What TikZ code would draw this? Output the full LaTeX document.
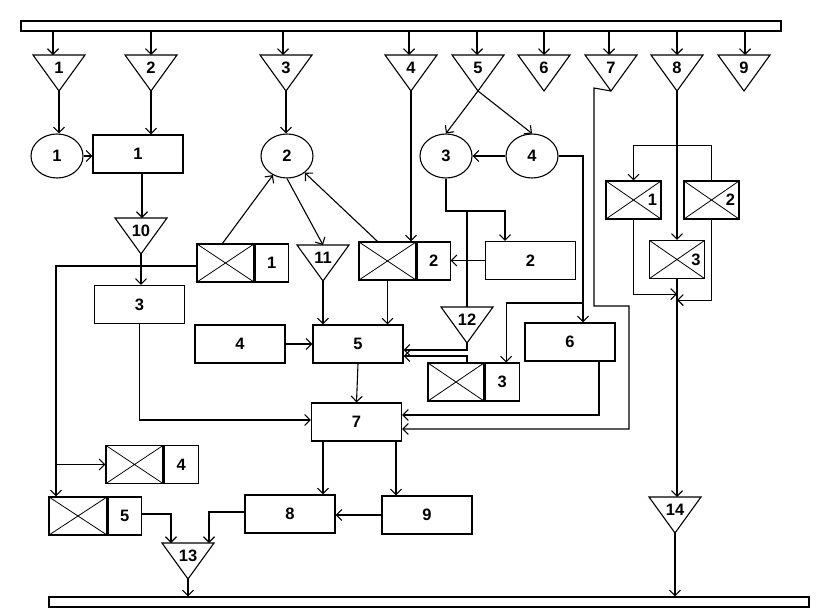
\documentclass[tikz,border=0pt]{standalone}
\usepackage{fontspec}
\setmainfont{Liberation Sans}
\usetikzlibrary{shapes.geometric,arrows.meta,calc}
\tikzset{
  every node/.style={font=\fontsize{16.5}{16.5}\selectfont\bfseries},
  box/.style={draw, minimum width=90pt, minimum height=38pt, inner sep=0pt},
  circ/.style={draw, ellipse, minimum width=52pt, minimum height=44pt, inner sep=0pt},
  xbox/.style={draw, minimum width=57pt, minimum height=38pt, inner sep=0pt,
    path picture={\draw[line width=0.8pt] (path picture bounding box.north west)--(path picture bounding box.south east)
      (path picture bounding box.south west)--(path picture bounding box.north east);}},
  lcell/.style={draw, minimum width=33pt, minimum height=38pt, inner sep=0pt, anchor=west},
  bar/.style={draw, inner sep=0pt, minimum height=10pt},
  arr/.style={-{Straight Barb[length=5.5pt,width=11pt]}},
}
\newcommand\Tri[4]{%
  \draw (#2-26,#3) -- (#2+26,#3) -- (#2,#3+36) -- cycle;
  \coordinate (#1t) at (#2,#3);
  \coordinate (#1b) at (#2,#3+36);
  \node (#1l) at (#2,#3+12.5) {#4};
}
\begin{document}
\begin{tikzpicture}[x=1pt,y=-1pt,line width=1.1pt]
\useasboundingbox (0,0) rectangle (816,613);
% bars
\node[bar, minimum width=760pt] (top) at (401,26) {};
\node[bar, minimum width=760pt] (bot) at (429,602) {};
% top triangles
\Tri{t1}{59}{55}{1}
\Tri{t2}{151}{55}{2}
\Tri{t3}{286}{55}{3}
\Tri{t4}{411}{55}{4}
\Tri{t5}{478}{55}{5}
\Tri{t6}{544}{55}{6}
\Tri{t7}{611}{55}{7}
\Tri{t8}{677}{55}{8}
\Tri{t9}{744}{55}{9}
\foreach \n/\x in {1/53,2/151,3/283,4/409,5/477,6/544,7/609,8/677,9/745}{
  \coordinate (a\n) at (\x,55);
  \draw[arr] (top.south -| a\n) -- (a\n);
}
% other triangles
\Tri{t10}{141}{218}{10}
\Tri{t11}{323}{245}{11}
\Tri{t12}{467}{307}{12}
\Tri{t13}{188}{543}{13}
\Tri{t14}{675}{497}{14}
% circles
\node[circ] (c1) at (57,156) {1};
\node[circ] (c2) at (287,156) {2};
\node[circ] (c3) at (446,156) {3};
\node[circ] (c4) at (532,156) {4};
% boxes
\node[box] (b1) at (138,154) {1};
\node[box] (b2) at (530.5,260.5) {2};
\node[box] (b3) at (139.5,304.5) {3};
\node[box] (b4) at (240,344) {4};
\node[box] (b5) at (358,344) {5};
\node[box] (b6) at (570,342) {6};
\node[box] (b7) at (356.5,422) {7};
\node[box] (b8) at (290,514) {8};
\node[box] (b9) at (427,515) {9};
% crossed boxes with label cells
\node[xbox] (x1) at (225.5,263) {};
\node[lcell] (x1c) at (x1.east) {1};
\node[xbox] (x2) at (387.5,261) {};
\node[lcell] (x2c) at (x2.east) {2};
\node[xbox, minimum width=56pt] (x3) at (456,382) {};
\node[lcell, minimum width=34pt] (x3c) at (x3.east) {3};
\node[xbox] (x4) at (134.5,464.5) {};
\node[lcell, minimum width=34pt] (x4c) at (x4.east) {4};
\node[xbox, minimum width=58pt] (x5) at (78,516) {};
\node[lcell] (x5c) at (x5.east) {5};
% right crossed boxes
\node[xbox, minimum width=55pt] (r1) at (633.5,200) {};
\node (r1l) at ($(r1.center)+(19,0)$) {1};
\node[xbox, minimum width=55pt] (r2) at (711.5,200) {};
\node (r2l) at ($(r2.center)+(19,0)$) {2};
\node[xbox, minimum width=55pt] (r3) at (677,259.5) {};
\node (r3l) at ($(r3.center)+(19,0)$) {3};
% connectors, left part
\draw[arr] (t1b) -- (t1b |- c1.north);
\draw[arr] (c1.east) -- (c1.east -| b1.west);
\draw[arr] (t2b) -- (t2b |- b1.north);
\draw[arr] (t3b) -- (t3b |- c2.north);
\coordinate (p10) at ($(b1.south)+(4,0)$);
\draw[arr] (p10) -- (p10 |- t10t);
\draw[arr] (t10b) -- (t10b |- b3.north);
\coordinate (jl) at (56,266);
\draw[arr] (x1.west |- jl) -- (jl) -- (jl |- x5.north);
\draw[arr] (jl |- x4.west) -- (x4.west);
\draw[arr] ($(x1.north west)+(26,0)$) -- (c2);
\draw[arr] (c2.south) -- (t11t);
\draw[arr] ($(x2.north)+(-10,0)$) -- (c2);
\draw[arr] (t4b) -- (t4b |- x2.north);
\draw[arr] (t11b) -- (t11b |- b5.north);
\draw[arr] (x2.south) -- (x2.south |- b5.north);
\draw[arr] (b4.east) -- (b5.west);
% middle part
\draw[arr] (t5b) -- (c3.north);
\draw[arr] (t5b) -- (c4.north);
\draw[arr] (c4.west) -- (c3.east);
\coordinate (p6) at ($(b6.north)+(13,0)$);
\draw[arr] (c4.east) -| (p6);
\coordinate (j6) at (583,303);
\coordinate (px3) at ($(x3c.north)+(4,0)$);
\draw[arr] (j6) -| (px3);
\coordinate (j3) at (446,211);
\coordinate (pb2) at ($(b2.north)+(-25.5,0)$);
\draw[arr] (c3.south) -- (j3) -| (pb2);
\draw (t12t |- j3) -- (t12t);
\draw[arr] (b2.west) -- (b2.west -| x2c.east);
\draw[arr] (t12b) |- ($(b5.east)+(0,6)$);
\draw[arr] (x3.north -| t12t) |- ($(b5.east)+(0,12)$);
\draw[arr] (b5.south) -- (b7.north);
\draw[arr] (b3.south) |- ($(b7.west)+(0,-2)$);
\draw[arr] ($(b6.south)+(29,0)$) |- ($(b7.east)+(0,-7)$);
\coordinate (k1) at (594,88);
\coordinate (k2) at (594,306);
\coordinate (k3) at (629,306);
\draw[arr] (t7b) -- (k1) -- (k2) -- (k3) |- ($(b7.east)+(0,7)$);
% lower part
\coordinate (p8) at ($(b7.south)+(-33.5,0)$);
\draw[arr] (p8) -- (p8 |- b8.north);
\coordinate (p9) at ($(b7.south)+(39.5,0)$);
\draw[arr] (p9) -- (p9 |- b9.north);
\draw[arr] (b9.west) -- (b9.west -| b8.east);
\draw[arr] ($(b8.west)+(0,-2)$) -| ($(t13t)+(21,0)$);
\draw[arr] ($(x5c.east)+(0,-2)$) -| ($(t13t)+(-17,0)$);
\draw[arr] (t13b) -- (t13b |- bot.north);
% right part
\draw[arr] (t8b) -- (t8b |- r3.north);
\draw[arr] (r3.south) -- (r3.south |- t14t);
\draw[arr] (r2.north) -- ++(0,-35) -| (r1.north);
\draw[arr] (r1.south) |- ($(r3.south)+(0,15)$);
\draw[arr] (r2.south) |- ($(r3.south)+(0,21)$);
\draw[arr] (t14b) -- (t14b |- bot.north);
\end{tikzpicture}
\end{document}
